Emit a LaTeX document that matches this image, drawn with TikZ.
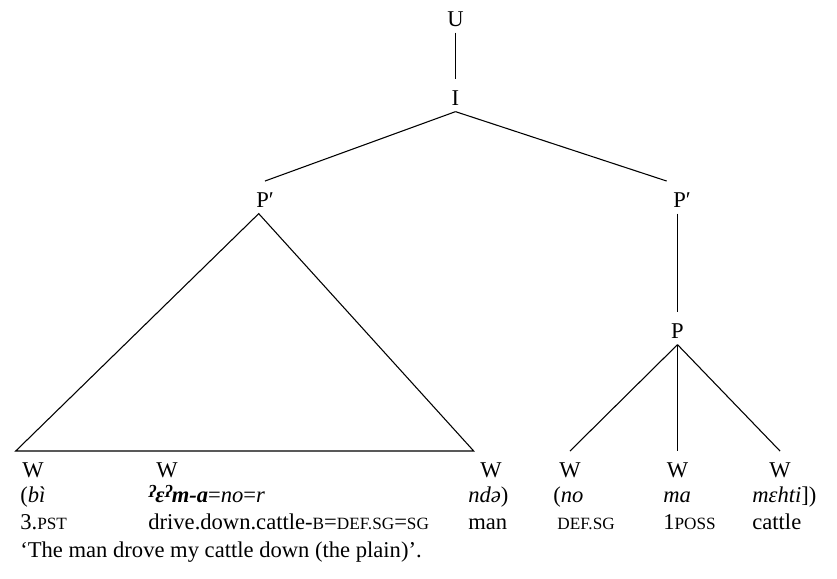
\documentclass[tikz,border=0pt]{standalone}
\usepackage{fontspec}
\setmainfont{Liberation Serif}
\usetikzlibrary{positioning}
\newcommand{\gsc}[1]{{\fontsize{9.6}{11}\selectfont\MakeUppercase{#1}}}
\newcommand{\glst}{{\fontsize{9.6}{10}\selectfont\raisebox{0.55ex}{ʔ}}}

\begin{document}
\begin{tikzpicture}[
    x=0.558pt, y=-0.558pt,
    cat/.style={
        inner sep=3.5pt,
        text height=10.8pt,
        text depth=0pt,
        font=\fontsize{12.6}{14}\selectfont,
        anchor=base
    },
    word/.style={
        inner sep=0pt,
        anchor=base west,
        font=\fontsize{12.6}{14}\selectfont
    },
    branch/.style={line width=0.6pt}
]
\useasboundingbox (0,0) rectangle (837,578);

% ======================
% Tree nodes
% ======================
\node[cat] (U) at (455.5,26) {U};
\node[cat] (I) at (455.5,105) {I};
\node[cat] (Pl) at (265,207) {P′};
\node[cat] (Pr) at (682,207) {P′};
\node[cat] (P) at (677.5,338) {P};

\node[cat] (W1) at (33,477) {W};
\node[cat] (W2) at (167,477) {W};
\node[cat] (W3) at (491,477) {W};
\node[cat] (W4) at (570,477) {W};
\node[cat] (W5) at (677.5,477) {W};
\node[cat] (W6) at (780,477) {W};

% ======================
% Branches
% ======================
\draw[branch] (U) -- (I);
\draw[branch] (I.south) -- (Pl.north);
\draw[branch] (I.south) -- (Pr.north west);
\draw[branch] (Pr.south -| P.north) -- (P.north);

% triangle over the first phrase
\coordinate (apex) at ([xshift=-3.5pt]Pl.south);
\draw[branch] (apex) -- (W1.north west) -- (W3.north west) -- cycle;

\foreach \w in {W4,W5,W6}
    \draw[branch] (P.south) -- (\w.north);

% ======================
% Words
% ======================
\node[word] (wd-bi) at (20,502) {(\textit{bì}};
\node[word] (wd-ema) at (148,502) {\textit{\textbf{\glst ɛ\glst m-a}}=\textit{no}=\textit{r}};
\node[word] (wd-nde) at (468,502) {\textit{ndə})};
\node[word] (wd-no) at (553,502) {(\textit{no}};
\node[word] (wd-ma) at (663,502) {\textit{ma}};
\node[word] (wd-mehti) at (752,502) {\textit{mɛhti}])};

% ======================
% Glosses
% ======================
\node[word] (gl-pst) at (20,529) {3.\gsc{pst}};
\node[word] (gl-drive) at (148,529) {drive.down.cattle-\gsc{b}=\gsc{def.sg}=\gsc{sg}};
\node[word] (gl-man) at (468,529) {man};
\node[word] (gl-def) at (557,529) {\gsc{def.sg}};
\node[word] (gl-poss) at (663,529) {1\gsc{poss}};
\node[word] (gl-cattle) at (752,529) {cattle};

% free translation
\node[word] (trans) at (20,557) {‘The man drove my cattle down (the plain)’.};

\end{tikzpicture}
\end{document}
